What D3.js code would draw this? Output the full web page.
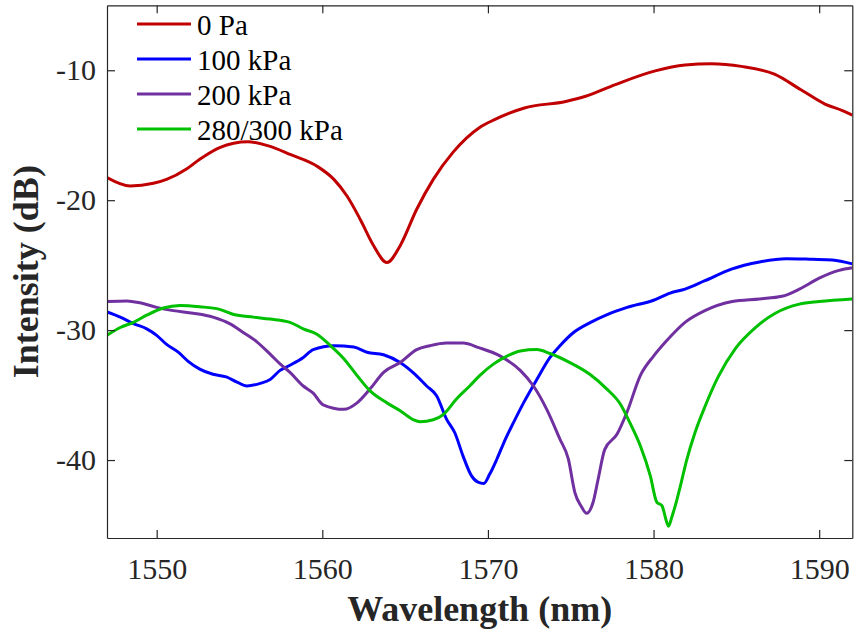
<!DOCTYPE html>
<html>
<head>
<meta charset="utf-8">
<script src="https://cdn.jsdelivr.net/npm/d3@7"></script>
<style>
  html, body { margin: 0; padding: 0; background: #fff; }
  svg { display: block; }
</style>
</head>
<body>
<svg id="chart" width="855" height="629"></svg>
<script>
// Transmission spectra at several applied pressures: [wavelength nm, intensity dB]
const seriesNames = ["0 Pa", "100 kPa", "200 kPa", "280/300 kPa"];
const seriesColors = ["#C00000", "#0000FF", "#7030A0", "#00C000"];

const spectrum0Pa = [
  [1547.0,-18.25],[1548.4,-18.9],[1549.8,-18.7],[1550.6,-18.4],[1551.8,-17.6],[1552.6,-16.85],
  [1553.8,-15.95],[1555.5,-15.5],[1556.7,-15.8],[1558.1,-16.5],[1559.7,-17.4],[1560.7,-18.4],
  [1561.5,-19.7],[1562.3,-21.5],[1563.1,-23.5],[1563.9,-24.8],[1564.7,-23.5],[1565.7,-20.7],
  [1566.7,-18.4],[1567.9,-16.3],[1569.5,-14.4],[1570.4,-13.8],[1572.2,-12.9],[1574.7,-12.4],
  [1575.9,-12.0],[1577.7,-11.1],[1580.1,-10.05],[1581.9,-9.6],[1583.5,-9.5],[1585.3,-9.7],
  [1587.3,-10.3],[1588.9,-11.5],[1590.35,-12.6],[1591.4,-13.1],[1592.0,-13.45]
];

const spectrum100kPa = [
  [1547.0,-28.6],[1547.8,-29.0],[1548.6,-29.5],[1549.4,-29.9],[1550.0,-30.4],[1550.6,-31.1],
  [1551.3,-31.7],[1551.9,-32.4],[1552.6,-33.0],[1553.4,-33.4],[1554.2,-33.6],[1554.85,-34.0],
  [1555.45,-34.3],[1556.25,-34.1],[1556.85,-33.8],[1557.45,-33.1],[1558.05,-32.7],[1558.85,-32.1],
  [1559.45,-31.5],[1560.7,-31.2],[1561.9,-31.3],[1562.7,-31.7],[1563.7,-31.9],[1564.7,-32.5],
  [1565.5,-33.3],[1566.3,-34.3],[1566.9,-35.05],[1567.5,-36.85],[1568.0,-37.9],[1568.5,-39.7],
  [1569.0,-41.2],[1569.4,-41.7],[1569.75,-41.8],[1570.1,-41.1],[1570.55,-39.9],[1571.05,-38.4],
  [1571.55,-37.1],[1572.15,-35.6],[1572.95,-33.8],[1573.75,-32.1],[1574.35,-31.2],[1575.15,-30.2],
  [1576.2,-29.4],[1577.2,-28.8],[1578.4,-28.25],[1580.0,-27.7],[1581.0,-27.15],[1581.9,-26.85],
  [1583.1,-26.2],[1584.7,-25.3],[1586.4,-24.75],[1588.0,-24.5],[1589.6,-24.55],[1590.8,-24.6],
  [1592.0,-24.9]
];

const spectrum200kPa = [
  [1547.0,-27.8],[1548.2,-27.75],[1549.0,-27.9],[1550.0,-28.25],[1551.0,-28.5],[1552.2,-28.7],
  [1553.4,-29.0],[1554.4,-29.5],[1555.25,-30.2],[1556.05,-30.9],[1556.85,-31.85],[1557.45,-32.6],
  [1558.05,-33.25],[1558.85,-34.3],[1559.45,-34.85],[1560.05,-35.75],[1561.3,-36.1],[1562.1,-35.6],
  [1562.9,-34.5],[1563.7,-33.25],[1564.7,-32.5],[1565.7,-31.5],[1566.5,-31.2],[1567.5,-31.0],
  [1568.5,-31.0],[1569.45,-31.35],[1570.75,-32.0],[1571.95,-33.1],[1572.75,-34.3],[1573.55,-36.1],
  [1574.35,-38.4],[1574.85,-39.9],[1575.25,-42.5],[1575.65,-43.6],[1575.95,-44.1],[1576.35,-43.25],
  [1576.65,-41.5],[1577.05,-39.2],[1577.8,-38.0],[1578.4,-36.3],[1579.2,-33.5],[1580.0,-32.0],
  [1580.8,-30.8],[1581.9,-29.4],[1583.1,-28.5],[1584.75,-27.8],[1586.4,-27.6],[1587.75,-27.4],
  [1588.8,-26.85],[1590.0,-26.0],[1591.2,-25.4],[1592.0,-25.2]
];

const spectrum300kPa = [
  [1547.0,-30.4],[1547.8,-29.8],[1548.6,-29.4],[1549.4,-28.85],[1550.4,-28.3],[1551.4,-28.1],
  [1552.6,-28.2],[1553.8,-28.4],[1554.65,-28.8],[1555.85,-29.0],[1556.85,-29.15],[1558.05,-29.4],
  [1558.85,-29.9],[1559.65,-30.3],[1560.5,-31.2],[1561.3,-32.2],[1562.1,-33.5],[1562.9,-34.7],
  [1563.9,-35.6],[1564.7,-36.2],[1565.5,-36.9],[1565.9,-37.05],[1566.7,-36.9],[1567.3,-36.5],
  [1568.1,-35.3],[1568.9,-34.3],[1569.5,-33.5],[1570.35,-32.6],[1571.15,-32.0],[1571.95,-31.6],
  [1572.95,-31.5],[1573.75,-31.8],[1574.95,-32.5],[1576.15,-33.4],[1577.15,-34.5],[1578.0,-35.7],
  [1578.6,-37.2],[1579.2,-38.9],[1579.8,-41.2],[1580.2,-43.25],[1580.5,-43.5],[1580.8,-44.8],
  [1580.9,-45.1],[1581.1,-44.4],[1581.4,-43.1],[1581.6,-42.1],[1582.0,-40.0],[1582.5,-37.9],
  [1583.1,-35.9],[1583.9,-33.6],[1584.95,-31.4],[1586.15,-29.8],[1587.35,-28.7],[1588.8,-28.0],
  [1590.0,-27.8],[1592.0,-27.6]
];

const xTicks = [1550, 1560, 1570, 1580, 1590];
const yTicks = [-40, -30, -20, -10];

const allSeries = [spectrum0Pa, spectrum100kPa, spectrum200kPa, spectrum300kPa];

const W = 855, H = 629;
const margin = { top: 5.3, right: 2.7, bottom: 91, left: 107 };
const innerW = W - margin.left - margin.right;
const innerH = H - margin.top - margin.bottom;
const axisColor = "#262626";
const serif = "\"Liberation Serif\"";

const svg = d3.select("#chart");
const g = svg.append("g").attr("transform", `translate(${margin.left},${margin.top})`);

const x = d3.scaleLinear().domain([1547, 1592]).range([0, innerW]);
const y = d3.scaleLinear().domain([-46, -5]).range([innerH, 0]);

g.append("defs").append("clipPath").attr("id", "plot-clip")
  .append("rect").attr("width", innerW).attr("height", innerH);

// Spectral curves
const line = d3.line()
  .x(d => x(d[0]))
  .y(d => y(d[1]))
  .curve(d3.curveMonotoneX);

const curves = g.append("g").attr("clip-path", "url(#plot-clip)");
allSeries.forEach((s, i) => {
  curves.append("path")
    .datum(s)
    .attr("fill", "none")
    .attr("stroke", seriesColors[i])
    .attr("stroke-width", 3)
    .attr("stroke-linejoin", "round")
    .attr("d", line);
});

// Axes with inward ticks on all four sides
function styleAxis(sel) {
  sel.attr("font-family", null).attr("font-size", null);
  sel.selectAll(".domain").attr("stroke", axisColor).attr("stroke-width", 1.2);
  sel.selectAll(".tick line").attr("stroke", axisColor).attr("stroke-width", 1.2);
  sel.selectAll(".tick text")
    .attr("fill", axisColor)
    .style("font-family", serif)
    .style("font-size", "30px");
}

const plainNumber = d => String(d);
const tickLen = 8;
const xBottom = g.append("g").attr("transform", `translate(0,${innerH})`)
  .call(d3.axisBottom(x).tickValues(xTicks).tickFormat(plainNumber)
    .tickSizeInner(-tickLen).tickSizeOuter(0).tickPadding(20));
styleAxis(xBottom);

const xTop = g.append("g")
  .call(d3.axisTop(x).tickValues(xTicks).tickFormat("")
    .tickSizeInner(-tickLen).tickSizeOuter(0));
styleAxis(xTop);

const yLeft = g.append("g")
  .call(d3.axisLeft(y).tickValues(yTicks).tickFormat(plainNumber)
    .tickSizeInner(-tickLen).tickSizeOuter(0).tickPadding(11));
styleAxis(yLeft);

const yRight = g.append("g").attr("transform", `translate(${innerW},0)`)
  .call(d3.axisRight(y).tickValues(yTicks).tickFormat("")
    .tickSizeInner(-tickLen).tickSizeOuter(0));
styleAxis(yRight);

// Axis titles
svg.append("text")
  .attr("x", margin.left + innerW / 2)
  .attr("y", 621)
  .attr("text-anchor", "middle")
  .attr("fill", axisColor)
  .style("font-family", serif)
  .style("font-weight", "bold")
  .style("font-size", "36px")
  .text("Wavelength (nm)");

svg.append("text")
  .attr("transform", `translate(38,${margin.top + innerH / 2}) rotate(-90)`)
  .attr("text-anchor", "middle")
  .attr("fill", axisColor)
  .style("font-family", serif)
  .style("font-weight", "bold")
  .style("font-size", "36px")
  .text("Intensity (dB)");

// Legend
const legend = svg.append("g");
seriesNames.forEach((name, i) => {
  const ly = 24 + i * 35;
  legend.append("line")
    .attr("x1", 137).attr("x2", 191)
    .attr("y1", ly).attr("y2", ly)
    .attr("stroke", seriesColors[i])
    .attr("stroke-width", 3);
  legend.append("text")
    .attr("x", 197)
    .attr("y", ly + 10.5)
    .attr("fill", "#000")
    .style("font-family", serif)
    .style("font-size", "29px")
    .text(name);
});
</script>
</body>
</html>
